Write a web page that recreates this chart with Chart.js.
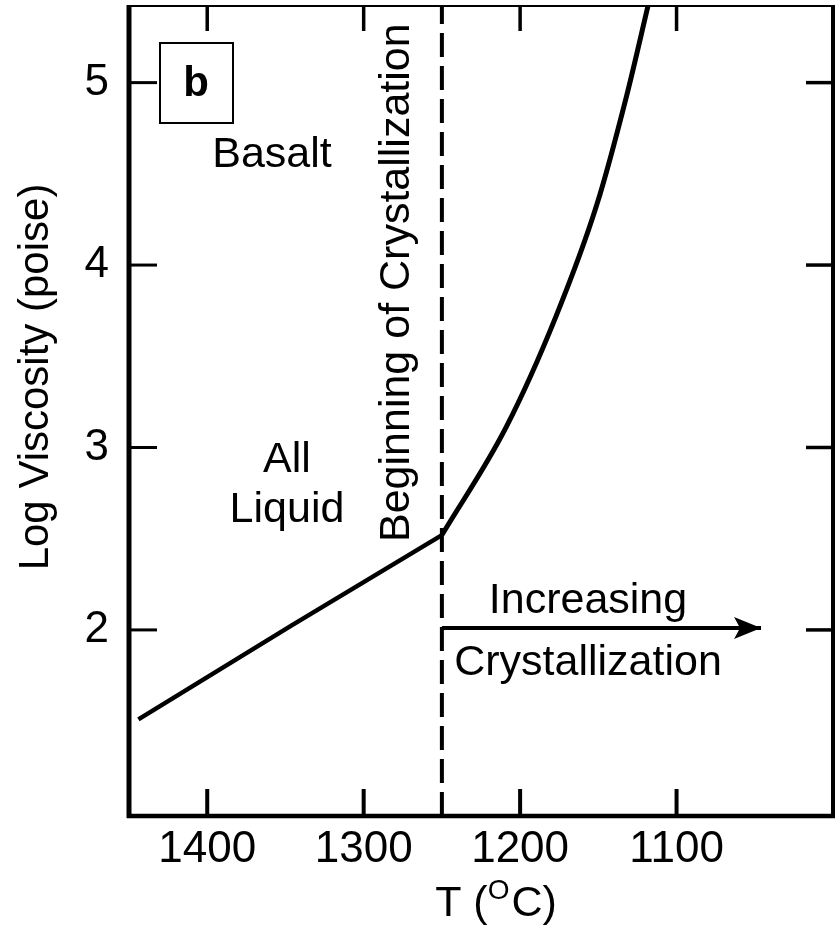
<!DOCTYPE html>
<html><head><meta charset="utf-8">
<script src="https://cdn.jsdelivr.net/npm/chart.js@4.4.1/dist/chart.umd.min.js"></script>
<style>html,body{margin:0;padding:0;background:#fff;}#wrap{width:838px;height:927px;}</style>
</head><body><div id="wrap"><canvas id="c" width="838" height="927"></canvas></div>
<script>
// ---- data ----
const xTickValues = [1400, 1300, 1200, 1100];
const yTickValues = [2, 3, 4, 5];
const xRange = [1000, 1450];
const yRange = [0.98, 5.42];
const liquidT = [1444, 1346, 1250];
const liquidLogVisc = [1.51, 2.025, 2.52];
const crystT = [1250, 1209, 1177, 1151, 1132, 1118];
const crystLogVisc = [2.52, 3.11, 3.72, 4.33, 4.925, 5.43];
const crystStartT = 1250;
const arrowT = [1250, 1046];
const arrowLogVisc = [2.01, 2.01];

const FONT = "'Liberation Sans', Arial, Helvetica, sans-serif";
const pts = (xs, ys) => xs.map((x, i) => ({x: x, y: ys[i]}));

const framePlugin = {
  id: 'frame',
  afterDatasetsDraw(chart) {
    const ctx = chart.ctx, a = chart.chartArea;
    const xs = chart.scales.x, ys = chart.scales.y;
    ctx.save();
    ctx.strokeStyle = '#000';
    ctx.lineCap = 'butt';
    const line = (x1, y1, x2, y2, w) => { ctx.lineWidth = w; ctx.beginPath(); ctx.moveTo(x1, y1); ctx.lineTo(x2, y2); ctx.stroke(); };
    // frame
    line(a.left, a.top - 1, a.left, a.bottom + 2, 5);
    line(a.left - 2, a.bottom, a.right + 2, a.bottom, 4.5);
    line(a.right, a.top - 1, a.right, a.bottom + 2, 4);
    line(a.left - 2, a.top, a.right + 2, a.top, 2);
    // inward ticks
    xTickValues.forEach(v => {
      const px = xs.getPixelForValue(v);
      line(px, a.bottom, px, a.bottom - 27, 4);
      line(px, a.top, px, a.top + 25, 3.5);
    });
    yTickValues.forEach(v => {
      const py = ys.getPixelForValue(v);
      line(a.left, py, a.left + 28, py, 3);
      line(a.right, py, a.right - 27, py, 3.5);
    });
    // arrow head
    const tx = xs.getPixelForValue(arrowT[1]), ty = ys.getPixelForValue(arrowLogVisc[1]);
    ctx.fillStyle = '#000';
    ctx.beginPath();
    ctx.moveTo(tx, ty);
    ctx.lineTo(tx - 27, ty - 11);
    ctx.lineTo(tx - 21, ty);
    ctx.lineTo(tx - 27, ty + 11);
    ctx.closePath();
    ctx.fill();
    // "b" box
    ctx.lineWidth = 2;
    ctx.strokeRect(160, 43, 73, 80);
    ctx.fillStyle = '#000';
    ctx.textBaseline = 'alphabetic';
    ctx.textAlign = 'center';
    ctx.font = "bold 42px " + FONT;
    ctx.fillText('b', 196, 96);
    ctx.font = "43px " + FONT;
    ctx.fillText('Basalt', 272, 167);
    ctx.fillText('All', 287, 472);
    ctx.fillText('Liquid', 287, 522);
    ctx.fillText('Increasing', 588, 613);
    ctx.fillText('Crystallization', 588, 675);
    // rotated labels
    ctx.save();
    ctx.translate(409, 542);
    ctx.rotate(-Math.PI / 2);
    ctx.textAlign = 'left';
    ctx.fillText('Beginning of Crystallization', 0, 0);
    ctx.restore();
    ctx.save();
    ctx.translate(48, 377);
    ctx.rotate(-Math.PI / 2);
    ctx.textAlign = 'center';
    ctx.font = "42px " + FONT;
    ctx.fillText('Log Viscosity (poise)', 0, 0);
    ctx.restore();
    // x title: T (oC) with superscript
    ctx.textAlign = 'left';
    ctx.font = "43px " + FONT;
    const p1 = 'T (', p3 = 'C)';
    const w1 = ctx.measureText(p1).width, w3 = ctx.measureText(p3).width;
    ctx.font = "28px " + FONT;
    const w2 = ctx.measureText('O').width;
    const total = w1 + w2 + 2 + w3;
    const x0 = 496 - total / 2;
    const base = 916;
    ctx.font = "43px " + FONT;
    ctx.fillText(p1, x0, base);
    ctx.font = "28px " + FONT;
    ctx.fillText('O', x0 + w1, base - 17);
    ctx.font = "43px " + FONT;
    ctx.fillText(p3, x0 + w1 + w2 + 2, base);
    ctx.restore();
  }
};

new Chart(document.getElementById('c'), {
  type: 'scatter',
  data: {
    datasets: [
      { data: pts(liquidT, liquidLogVisc), showLine: true, borderColor: '#000', borderWidth: 4.5, pointRadius: 0, tension: 0 },
      { data: pts(crystT, crystLogVisc), showLine: true, borderColor: '#000', borderWidth: 5, pointRadius: 0, cubicInterpolationMode: 'monotone' },
      { data: pts([crystStartT, crystStartT], yRange), showLine: true, borderColor: '#000', borderWidth: 4, borderDash: [24, 9], pointRadius: 0 },
      { data: pts(arrowT, arrowLogVisc), showLine: true, borderColor: '#000', borderWidth: 4, pointRadius: 0 }
    ]
  },
  options: {
    responsive: false,
    animation: false,
    layout: { padding: { top: 6, right: 5, left: 0, bottom: 0 } },
    plugins: { legend: { display: false }, tooltip: { enabled: false } },
    scales: {
      x: {
        type: 'linear', reverse: true, min: xRange[0], max: xRange[1],
        afterBuildTicks: s => { s.ticks = xTickValues.map(v => ({ value: v })); },
        afterFit: s => { s.height = 111; s.paddingLeft = 0; s.paddingRight = 0; },
        grid: { display: false, drawTicks: false },
        border: { display: false },
        ticks: { color: '#000', font: { family: FONT, size: 44 }, padding: 7, maxRotation: 0, autoSkip: false, callback: v => String(v) }
      },
      y: {
        type: 'linear', min: yRange[0], max: yRange[1],
        afterBuildTicks: s => { s.ticks = yTickValues.map(v => ({ value: v })); },
        afterFit: s => { s.width = 129; s.paddingTop = 0; s.paddingBottom = 0; },
        grid: { display: false, drawTicks: false },
        border: { display: false },
        ticks: { color: '#000', font: { family: FONT, size: 44 }, padding: 20, autoSkip: false, callback: v => String(v) }
      }
    }
  },
  plugins: [framePlugin]
});
</script></body></html>
